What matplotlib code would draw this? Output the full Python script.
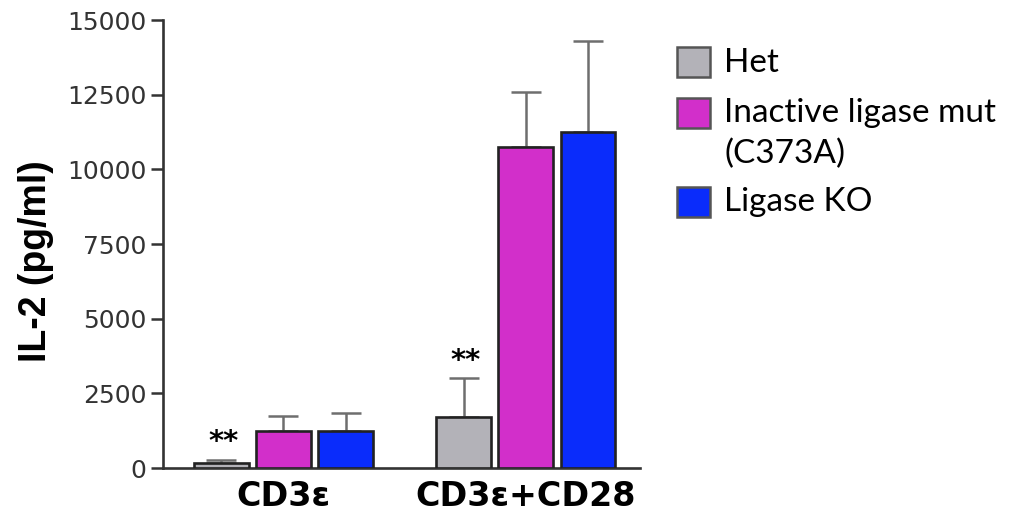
import numpy as np
import matplotlib.pyplot as plt
from matplotlib.patches import Rectangle

# data
groups = ["CD3\u03b5", "CD3\u03b5+CD28"]
series = ["Het", "Inactive ligase mut\n(C373A)", "Ligase KO"]
colors = ["#b3b2b8", "#d22fca", "#0a2cfb"]
means = np.array([[170, 1250, 1250],
                  [1700, 10750, 11250]])
errs = np.array([[100, 500, 580],
                 [1300, 1850, 3050]])
stars = ["**", "**"]          # marks over the Het bars
yticks = [0, 2500, 5000, 7500, 10000, 12500, 15000]

W, H = 1013, 517
fig = plt.figure(figsize=(W / 100, H / 100), dpi=100)
ax = fig.add_axes([163 / W, 1 - 468 / H, (640 - 163) / W, (468 - 20) / H])

group_pos = np.array([0.0, 3.9])
width = 0.88
for i, name in enumerate(series):
    x = group_pos + i
    ax.bar(x, means[:, i], width=width, color=colors[i], edgecolor="#222222",
           linewidth=1.9, zorder=3)
    ax.errorbar(x, means[:, i], yerr=[np.zeros(len(x)), errs[:, i]], fmt="none",
                ecolor="#6e6e6e", elinewidth=1.8, capsize=11, capthick=1.8, zorder=2)

for g, s in enumerate(stars):
    top = means[g, 0] + errs[g, 0]
    ax.text(group_pos[g] + 0.03, top + 120, s, ha="center", va="bottom", fontsize=21,
            family="DejaVu Sans", fontweight="bold")

ax.set_xlim(-0.94, 6.74)
ax.set_ylim(0, 15000)
ax.set_yticks(yticks)
ax.set_yticklabels([str(t) for t in yticks], family="DejaVu Sans", fontsize=18,
                   color="#333333")
ax.set_xticks(group_pos + 1)
ax.set_xticklabels(groups, family="DejaVu Sans", fontsize=24, fontweight="bold")
ax.tick_params(axis="x", length=0, pad=9)
ax.tick_params(axis="y", length=9, width=1.8, color="#333333", pad=3)
for side in ["top", "right"]:
    ax.spines[side].set_visible(False)
for side in ["left", "bottom"]:
    ax.spines[side].set_linewidth(1.9)
    ax.spines[side].set_color("#333333")
ax.set_ylabel("IL-2 (pg/ml)", family="Liberation Sans", fontsize=27,
              fontweight="bold")
ax.yaxis.set_label_coords((54 - 163) / (640 - 163), (468 - 261) / (468 - 20))

# legend drawn in figure pixels
box_y = [62, 113, 202]
text_rows = [(63, "Het"), (113, "Inactive ligase mut"), (154, "(C373A)"), (202, "Ligase KO")]
for c, yc in zip(colors, box_y):
    fig.add_artist(Rectangle((677 / W, 1 - (yc + 15) / H), 33 / W, 30 / H,
                             transform=fig.transFigure, facecolor=c,
                             edgecolor="#555555", linewidth=1.8))
for yc, t in text_rows:
    fig.text(724 / W, 1 - yc / H, t, ha="left", va="center", family="Lato",
             fontsize=24)

fig.savefig("out.png", dpi=100)
